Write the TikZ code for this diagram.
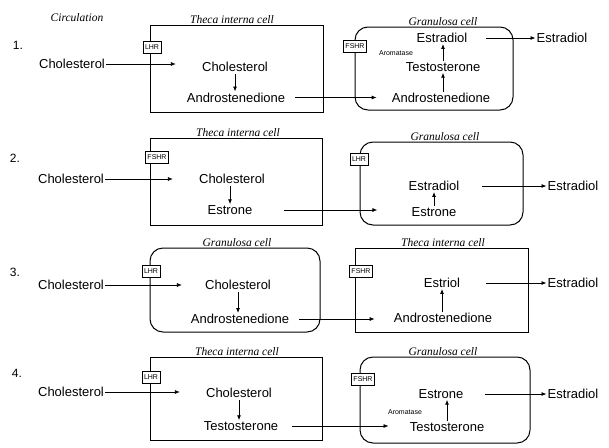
\documentclass[tikz,border=0pt]{standalone}
\usepackage{fontspec}
\setmainfont{Liberation Sans}
\newfontfamily\ttlfont{Liberation Serif}
\usetikzlibrary{arrows.meta}
\tikzset{
  lbl/.style={font=\fontsize{13}{15}\selectfont, inner sep=1pt},
  num/.style={font=\fontsize{12}{14}\selectfont, inner sep=1pt},
  ttl/.style={font=\ttlfont\itshape\fontsize{11.5}{13}\selectfont, inner sep=1pt},
  rec/.style={draw, fill=white, font=\fontsize{7}{8}\selectfont, minimum height=12pt, inner sep=2pt, line width=0.8pt},
  enz/.style={font=\fontsize{7}{8}\selectfont, inner sep=0pt},
  tcell/.style={draw, line width=1pt, inner sep=0pt},
  gcell/.style={tcell, rounded corners=13pt},
  arr/.style={-{Latex[length=5pt,width=4pt]}, line width=0.8pt},
}
\begin{document}
\begin{tikzpicture}[x=1pt,y=-1pt]
\path[use as bounding box] (0,0) rectangle (609,447);

% ---------- Panel 1 ----------
\node[ttl] (circ) at (77,18) {Circulation};
\node[num] (n1) at (18,45) {1.};
\node[tcell, minimum width=173pt, minimum height=87pt] (t1) at (236.5,68.5) {};
\node[gcell, minimum width=158pt, minimum height=83pt] (g1) at (434,68.5) {};
\node[ttl, anchor=south] (tt1) at (232,25) {Theca interna cell};
\node[ttl, anchor=south] (gt1) at (443,27) {Granulosa cell};
\node[rec] (r1) at (152,47) {LHR};
\node[rec] (q1) at (355,46) {FSHR};
\node[lbl] (c1) at (72,64) {Cholesterol};
\node[lbl] (ic1) at (235,67) {Cholesterol};
\node[lbl] (an1) at (236,97.5) {Androstenedione};
\node[lbl] (e1) at (442,38) {Estradiol};
\node[enz] (ar1) at (396,53) {Aromatase};
\node[lbl] (ts1) at (443,67) {Testosterone};
\node[lbl] (ag1) at (441,97.5) {Androstenedione};
\node[lbl] (eo1) at (562,38) {Estradiol};
\draw[arr, shorten >=25pt] (c1.east) -- (c1.east -| ic1.west);
\draw[arr, shorten <=1pt] (ic1.south) -- (ic1.south |- an1.north);
\draw[arr, shorten <=9pt, shorten >=14pt] (an1.east) -- (an1.east -| ag1.west);
\draw[arr] (ts1.north) -- (ts1.north |- e1.south);
\draw[arr] (ag1.north -| ts1.north) -- (ts1.south);
\draw[arr, shorten <=18pt] (e1.east) -- (e1.east -| eo1.west);

% ---------- Panel 2 ----------
\node[num] (n2) at (15,158) {2.};
\node[tcell, minimum width=172pt, minimum height=87pt] (t2) at (236,181.5) {};
\node[gcell, minimum width=163pt, minimum height=83pt] (g2) at (441.5,183.5) {};
\node[ttl, anchor=south] (tt2) at (238,138) {Theca interna cell};
\node[ttl, anchor=south] (gt2) at (445,142) {Granulosa cell};
\node[rec] (r2) at (157,157) {FSHR};
\node[rec] (q2) at (359,159) {LHR};
\node[lbl] (c2) at (71,179) {Cholesterol};
\node[lbl] (ic2) at (232,179) {Cholesterol};
\node[lbl] (es2) at (230,210) {Estrone};
\node[lbl] (ed2) at (434,186) {Estradiol};
\node[lbl] (gs2) at (434,212) {Estrone};
\node[lbl] (eo2) at (573,186) {Estradiol};
\draw[arr, shorten >=25pt] (c2.east) -- (c2.east -| ic2.west);
\draw[arr, shorten <=1pt] (ic2.south -| es2.north) -- (es2.north);
\draw[arr, shorten <=30pt, shorten >=33pt] (es2.east) -- (es2.east -| gs2.west);
\draw[arr] (gs2.north) -- (gs2.north |- ed2.south);
\draw[arr, shorten <=22pt] (ed2.east) -- (ed2.east -| eo2.west);

% ---------- Panel 3 ----------
\node[num] (n3) at (15,272) {3.};
\node[gcell, minimum width=170pt, minimum height=84pt] (g3) at (235,290) {};
\node[tcell, minimum width=173pt, minimum height=84pt] (t3) at (441.5,290) {};
\node[ttl, anchor=south] (gt3) at (237,248) {Granulosa cell};
\node[ttl, anchor=south] (tt3) at (443,248) {Theca interna cell};
\node[rec] (r3) at (151,271) {LHR};
\node[rec] (q3) at (361,271) {FSHR};
\node[lbl] (c3) at (71,285) {Cholesterol};
\node[lbl] (ic3) at (238,285) {Cholesterol};
\node[lbl] (an3) at (240,319) {Androstenedione};
\node[lbl] (et3) at (442,283) {Estriol};
\node[lbl] (ag3) at (443,318) {Androstenedione};
\node[lbl] (eo3) at (573,283) {Estradiol};
\draw[arr, shorten >=22pt] (c3.east) -- (c3.east -| ic3.west);
\draw[arr, shorten <=1pt] (ic3.south) -- (ic3.south |- an3.north);
\draw[arr, shorten <=9pt, shorten >=18pt] (an3.east) -- (an3.east -| ag3.west);
\draw[arr] (ag3.north -| et3.south) -- (et3.south);
\draw[arr, shorten <=25pt] (et3.east) -- (et3.east -| eo3.west);

% ---------- Panel 4 ----------
\node[num] (n4) at (17,373) {4.};
\node[tcell, minimum width=172pt, minimum height=83pt] (t4) at (236,398.5) {};
\node[gcell, minimum width=170pt, minimum height=86pt] (g4) at (445,400) {};
\node[ttl, anchor=south] (tt4) at (237,357) {Theca interna cell};
\node[ttl, anchor=south] (gt4) at (443,357) {Granulosa cell};
\node[rec] (r4) at (151,377) {LHR};
\node[rec] (q4) at (363,379) {FSHR};
\node[lbl] (c4) at (71,392) {Cholesterol};
\node[lbl] (ic4) at (239,393) {Cholesterol};
\node[lbl] (ts4) at (241,426) {Testosterone};
\node[lbl] (en4) at (441,394) {Estrone};
\node[enz] (ar4) at (405,412) {Aromatase};
\node[lbl] (tg4) at (447,427) {Testosterone};
\node[lbl] (eo4) at (573,394) {Estradiol};
\draw[arr, shorten >=25pt] (c4.east) -- (c4.east -| ic4.west);
\draw[arr, shorten <=1pt] (ic4.south) -- (ic4.south |- ts4.north);
\draw[arr, shorten <=13pt, shorten >=20pt] (ts4.east) -- (ts4.east -| tg4.west);
\draw[arr] (tg4.north) -- (tg4.north |- en4.south);
\draw[arr, shorten <=20pt] (en4.east) -- (en4.east -| eo4.west);
\end{tikzpicture}
\end{document}
